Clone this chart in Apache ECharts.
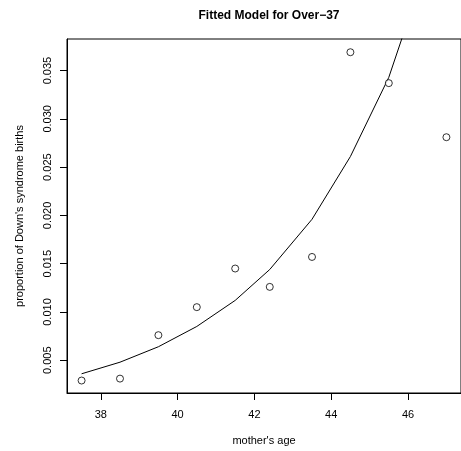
<!DOCTYPE html>
<html>
<head>
<meta charset="utf-8">
<script src="https://cdn.jsdelivr.net/npm/echarts@6/dist/echarts.min.js"></script>
<style>
  html, body { margin: 0; padding: 0; background: #fff; }
  #chart { width: 461px; height: 451px; }
</style>
</head>
<body>
<div id="chart"></div>
<script>
// observed proportions by mother's age
var ages = [37.5, 38.5, 39.5, 40.5, 41.5, 42.4, 43.5, 44.5, 45.5, 47];
var observed = [0.0029, 0.0031, 0.0076, 0.0105, 0.0145, 0.0126, 0.0157, 0.0369, 0.0337, 0.0281];
// fitted model values at the same ages
var fitted = [0.0036, 0.0048, 0.0064, 0.0085, 0.0112, 0.0144, 0.0196, 0.0261, 0.0343, 0.0520];
var xTicks = [38, 40, 42, 44, 46];
var yTicks = [0.005, 0.010, 0.015, 0.020, 0.025, 0.030, 0.035];

var font = 'Liberation Sans, Arial, Helvetica, sans-serif';
var chart = echarts.init(document.getElementById('chart'));

var pts = ages.map(function (a, i) { return [a, observed[i]]; });
var fit = ages.map(function (a, i) { return [a, fitted[i]]; });

var option = {
  animation: false,
  backgroundColor: '#fff',
  title: {
    text: 'Fitted Model for Over\u221237',
    left: 264,
    textAlign: 'center',
    top: 5,
    textStyle: { fontFamily: font, fontSize: 12, fontWeight: 'bold', color: '#000' }
  },
  grid: {
    left: 67,
    top: 39,
    width: 395,
    height: 354,
    show: true,
    borderColor: '#000',
    borderWidth: 1,
    backgroundColor: 'transparent'
  },
  xAxis: {
    type: 'value',
    min: 37.12,
    max: 47.38,
    name: "mother's age",
    nameLocation: 'middle',
    nameGap: 42,
    nameTextStyle: { fontFamily: font, fontSize: 11, color: '#000' },
    splitLine: { show: false },
    axisLine: { show: true, onZero: false, lineStyle: { color: '#000', width: 1 } },
    axisTick: { show: true, length: 7, lineStyle: { color: '#000' }, customValues: xTicks },
    axisLabel: {
      customValues: xTicks,
      margin: 16,
      fontFamily: font, fontSize: 11, color: '#000'
    }
  },
  yAxis: {
    type: 'value',
    min: 0.00161,
    max: 0.03827,
    name: "proportion of Down's syndrome births",
    nameLocation: 'middle',
    nameGap: 42,
    nameRotate: 90,
    nameTextStyle: { fontFamily: font, fontSize: 11, color: '#000' },
    splitLine: { show: false },
    axisLine: { show: true, onZero: false, lineStyle: { color: '#000', width: 1 } },
    axisTick: { show: true, length: 7, lineStyle: { color: '#000' }, customValues: yTicks },
    axisLabel: {
      customValues: yTicks,
      rotate: 90,
      margin: 14,
      fontFamily: font, fontSize: 11, color: '#000',
      formatter: function (v) { return v.toFixed(3); }
    }
  },
  series: [
    {
      type: 'line',
      data: fit,
      showSymbol: false,
      clip: true,
      lineStyle: { color: '#000', width: 1 },
      z: 2
    },
    {
      type: 'scatter',
      data: pts,
      symbol: 'circle',
      symbolSize: 7,
      itemStyle: { color: '#fff', borderColor: '#000', borderWidth: 1 },
      z: 3
    }
  ]
};

chart.setOption(option);
</script>
</body>
</html>
